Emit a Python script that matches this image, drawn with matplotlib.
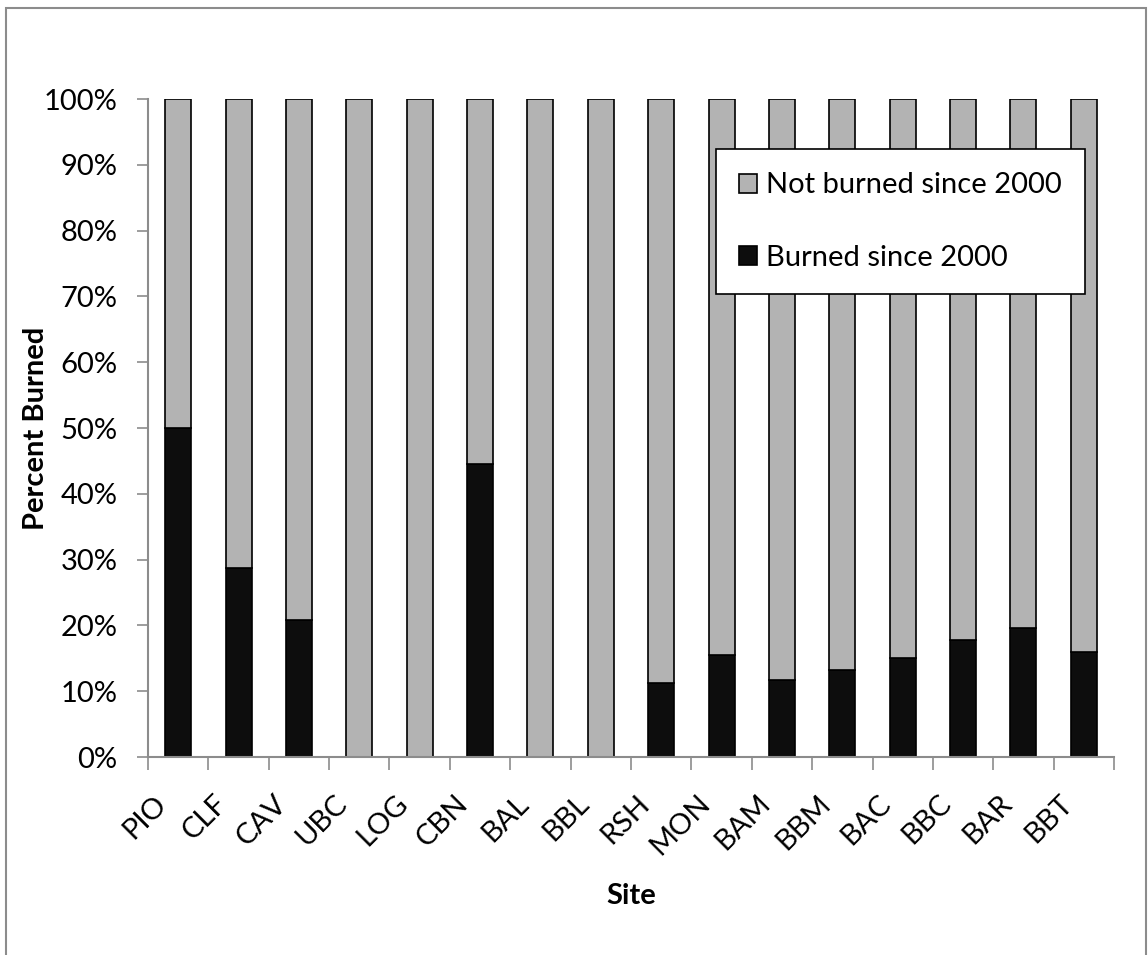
import numpy as np
import matplotlib
matplotlib.use("Agg")
import matplotlib.pyplot as plt
from matplotlib.patches import Rectangle
from matplotlib.ticker import PercentFormatter
from matplotlib.transforms import ScaledTranslation

sites = ["PIO", "CLF", "CAV", "UBC", "LOG", "CBN", "BAL", "BBL",
         "RSH", "MON", "BAM", "BBM", "BAC", "BBC", "BAR", "BBT"]
burned = [50.0, 28.7, 20.8, 0, 0, 44.5, 0, 0,
          11.2, 15.5, 11.7, 13.2, 15.0, 17.8, 19.6, 16.0]
not_burned = [100 - b for b in burned]

plt.rcParams["font.family"] = ["Lato", "DejaVu Sans"]

fig = plt.figure(figsize=(11.48, 9.55), dpi=100)
ax = fig.add_axes([0.1289, 0.2073, 0.8415, 0.689])

# outer chart border
fig.patches.append(Rectangle((6 / 1148, -0.05), 1140 / 1148, 1 - 8 / 955 + 0.05,
                             transform=fig.transFigure, fill=False,
                             edgecolor="#8c8c8c", linewidth=1.5))

x = np.arange(len(sites))
w = 0.43
ax.bar(x, burned, w, color="#0d0d0d", edgecolor="black", linewidth=1.2,
       label="Burned since 2000")
ax.bar(x, not_burned, w, bottom=burned, color="#b3b3b3", edgecolor="black",
       linewidth=1.2, label="Not burned since 2000")

ax.set_xlim(-0.5, len(sites) - 0.5)
ax.set_ylim(0, 100)
ax.set_yticks(np.arange(0, 101, 10))
ax.yaxis.set_major_formatter(PercentFormatter(decimals=0))
ax.tick_params(axis="y", labelsize=21, length=8, color="#8c8c8c", width=1.2, pad=14)

ax.set_xticks(x)
ax.set_xticklabels(sites, rotation=45, ha="right", rotation_mode="anchor", fontsize=21)
ax.tick_params(axis="x", which="major", length=0, pad=26)
ax.set_xticks(np.arange(-0.5, len(sites)), minor=True)
ax.tick_params(axis="x", which="minor", length=9, color="#8c8c8c", width=1.2)
shift = ScaledTranslation(-0.25, 0.03, fig.dpi_scale_trans)
for lbl in ax.get_xticklabels():
    lbl.set_transform(lbl.get_transform() + shift)

for s in ["top", "right"]:
    ax.spines[s].set_visible(False)
for s in ["left", "bottom"]:
    ax.spines[s].set_color("#8c8c8c")
    ax.spines[s].set_linewidth(1.5)

ax.set_ylabel("Percent Burned", fontsize=21, fontweight="bold", labelpad=-4)
ax.set_xlabel("Site", fontsize=21, fontweight="bold", labelpad=17)

handles, labels = ax.get_legend_handles_labels()
leg = ax.legend(handles[::-1], labels[::-1], loc="upper right",
                bbox_to_anchor=(0.970, 0.924), fontsize=21, frameon=True,
                fancybox=False, edgecolor="black", framealpha=1.0,
                handlelength=0.62, handleheight=0.62, handletextpad=0.3,
                labelspacing=1.6, borderpad=0.8, borderaxespad=0)
leg.get_frame().set_linewidth(1.2)

fig.savefig("out.png", dpi=100)
